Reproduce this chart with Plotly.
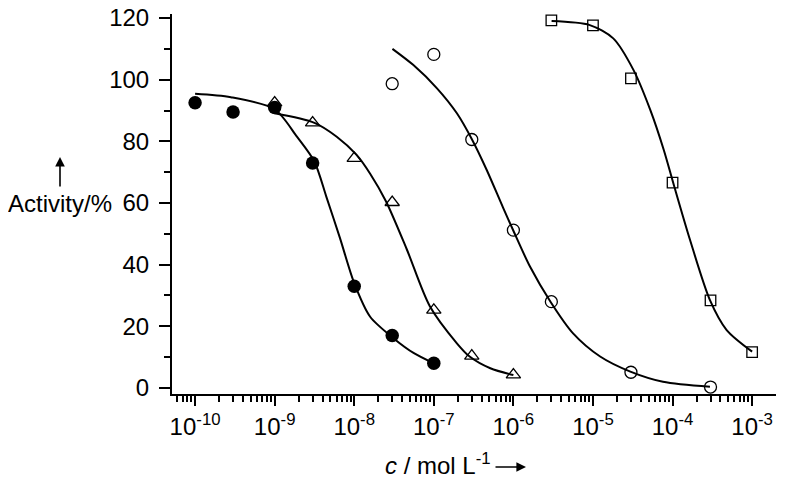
import plotly.graph_objects as go

# ---------------- data ----------------
# measured points (concentration in mol/L, activity in %)
filled_c = [1e-10, 3e-10, 1e-9, 3e-9, 1e-8, 3e-8, 1e-7]
filled_act = [92.5, 89.5, 91.0, 73.0, 33.0, 17.0, 8.0]

tri_c = [1e-9, 3e-9, 1e-8, 3e-8, 1e-7, 3e-7, 1e-6]
tri_act = [92.5, 86.0, 74.5, 60.2, 25.3, 10.4, 4.3]

circ_c = [3e-8, 1e-7, 3e-7, 1e-6, 3e-6, 3e-5, 3e-4]
circ_act = [98.7, 108.2, 80.6, 51.2, 28.0, 5.1, 0.3]

sq_c = [3e-6, 1e-5, 3e-5, 1e-4, 3e-4, 1e-3]
sq_act = [119.2, 117.6, 100.4, 66.6, 28.4, 11.6]

# fitted curves (log10 of concentration, activity %)
curve1_logc = [-10.0, -9.55, -9.0, -8.72, -8.5, -8.35, -8.18, -8.0, -7.8, -7.5, -7.25, -7.0]
curve1_act = [95.4, 94.3, 90.4, 81.5, 73.4, 62.0, 48.7, 34.0, 23.1, 16.0, 11.3, 8.0]

curve2_logc = [-9.0, -8.5, -8.22, -7.97, -7.8, -7.6, -7.34, -7.05, -6.71, -6.55, -6.29, -6.0]
curve2_act = [89.1, 86.0, 81.5, 75.6, 69.5, 60.5, 45.0, 26.5, 14.5, 10.2, 6.4, 4.2]

curve3_logc = [-7.52, -7.26, -6.96, -6.71, -6.52, -6.335, -6.13, -6.0, -5.79, -5.53, -5.25, -4.91, -4.53, -4.12, -3.53]
curve3_act = [110.0, 104.8, 97.2, 89.1, 80.6, 70.7, 58.5, 51.0, 39.3, 27.8, 17.7, 10.2, 5.3, 2.0, 0.4]

curve4_logc = [-5.52, -5.04, -4.745, -4.49, -4.28, -4.11, -3.99, -3.78, -3.53, -3.32, -3.0]
curve4_act = [119.0, 117.7, 113.4, 103.1, 90.2, 77.2, 66.4, 48.0, 28.5, 18.8, 11.8]

xtick_vals = [1e-10, 1e-9, 1e-8, 1e-7, 1e-6, 1e-5, 1e-4, 1e-3]
xtick_text = ["10<sup>-10</sup>", "10<sup>-9</sup>", "10<sup>-8</sup>", "10<sup>-7</sup>",
              "10<sup>-6</sup>", "10<sup>-5</sup>", "10<sup>-4</sup>", "10<sup>-3</sup>"]
ytick_vals = [0, 20, 40, 60, 80, 100, 120]

# ---------------- figure ----------------
FONT = "Liberation Sans, Arial, sans-serif"
fig = go.Figure()

line_style = dict(color="black", width=2, shape="spline", smoothing=0.8)
for lc, act in [(curve1_logc, curve1_act), (curve2_logc, curve2_act),
                (curve3_logc, curve3_act), (curve4_logc, curve4_act)]:
    fig.add_trace(go.Scatter(x=[10 ** v for v in lc], y=act, mode="lines",
                             line=line_style, showlegend=False, hoverinfo="skip"))

fig.add_trace(go.Scatter(x=tri_c, y=tri_act, mode="markers", showlegend=False,
                         marker=dict(symbol="triangle-up-open", size=12.5,
                                     color="black", line=dict(width=1.3, color="black"))))
fig.add_trace(go.Scatter(x=filled_c, y=filled_act, mode="markers", showlegend=False,
                         marker=dict(symbol="circle", size=13.5, color="black",
                                     line=dict(width=0))))
fig.add_trace(go.Scatter(x=circ_c, y=circ_act, mode="markers", showlegend=False,
                         marker=dict(symbol="circle-open", size=12, color="black",
                                     line=dict(width=1.3, color="black"))))
fig.add_trace(go.Scatter(x=sq_c, y=sq_act, mode="markers", showlegend=False,
                         marker=dict(symbol="square-open", size=10.5, color="black",
                                     line=dict(width=1.3, color="black"))))

minor_x = [k * 10.0 ** e for e in range(-11, -2) for k in range(2, 10)]
minor_x = [v for v in minor_x if 5e-11 <= v <= 2.01e-3]

fig.update_xaxes(type="log", range=[-10.29, -2.70], automargin=False,
                 ticklabeloverflow="allow",
                 tickmode="array", tickvals=xtick_vals, ticktext=xtick_text,
                 showline=True, linecolor="black", linewidth=2,
                 ticks="outside", ticklen=10, tickwidth=2, tickcolor="black",
                 minor=dict(tickmode="array", tickvals=minor_x, ticks="outside",
                            ticklen=6, tickwidth=1.5, tickcolor="black", showgrid=False),
                 showgrid=False, zeroline=False,
                 tickfont=dict(family=FONT, size=24, color="black"))
fig.update_yaxes(range=[-1.95, 121.3], tickmode="array", tickvals=ytick_vals,
                 automargin=False, ticklabeloverflow="allow", ticklabelstandoff=5,
                 showline=True, linecolor="black", linewidth=2,
                 ticks="outside", ticklen=11, tickwidth=2, tickcolor="black",
                 minor=dict(dtick=10, tick0=0, ticks="outside", ticklen=6,
                            tickwidth=1.5, tickcolor="black", showgrid=False),
                 showgrid=False, zeroline=False,
                 tickfont=dict(family=FONT, size=24, color="black"))

# the page places the figure 8 px in from the top-left corner (body margin)
OFF = 8
PAGE_W, PAGE_H = 786, 483
W, H = PAGE_W - OFF, PAGE_H - OFF
# plot area in page pixels: x 172..776, y 14..394
L, T = 172 - OFF, 14 - OFF
R, B = PAGE_W - 776, PAGE_H - 394
pw, ph = W - L - R, H - T - B


def px(x):
    return (x - OFF - L) / pw


def py(y):
    return (T + ph - (y - OFF)) / ph


annotations = [
    dict(x=px(60), y=py(203), xref="paper", yref="paper", text="Activity/%",
         showarrow=False, xanchor="center", yanchor="middle",
         font=dict(family=FONT, size=24, color="black")),
    dict(x=px(60), y=py(157), xref="paper", yref="paper", text="",
         showarrow=True, ax=0, ay=31, arrowhead=2, arrowsize=1.2, arrowwidth=1.6,
         arrowcolor="black"),
    dict(x=px(383), y=py(464), xref="paper", yref="paper",
         text="<i>c</i> / mol L<sup>-1</sup>", showarrow=False,
         xanchor="left", yanchor="middle",
         font=dict(family=FONT, size=24, color="black")),
    dict(x=px(526), y=py(467), xref="paper", yref="paper", text="",
         showarrow=True, ax=-32, ay=0, arrowhead=2, arrowsize=1.2, arrowwidth=1.6,
         arrowcolor="black"),
]

fig.update_layout(width=W, height=H, margin=dict(l=L, r=R, t=T, b=B),
                  paper_bgcolor="white", plot_bgcolor="white",
                  showlegend=False, annotations=annotations,
                  font=dict(family=FONT, color="black"))

fig.write_html("out.html")
